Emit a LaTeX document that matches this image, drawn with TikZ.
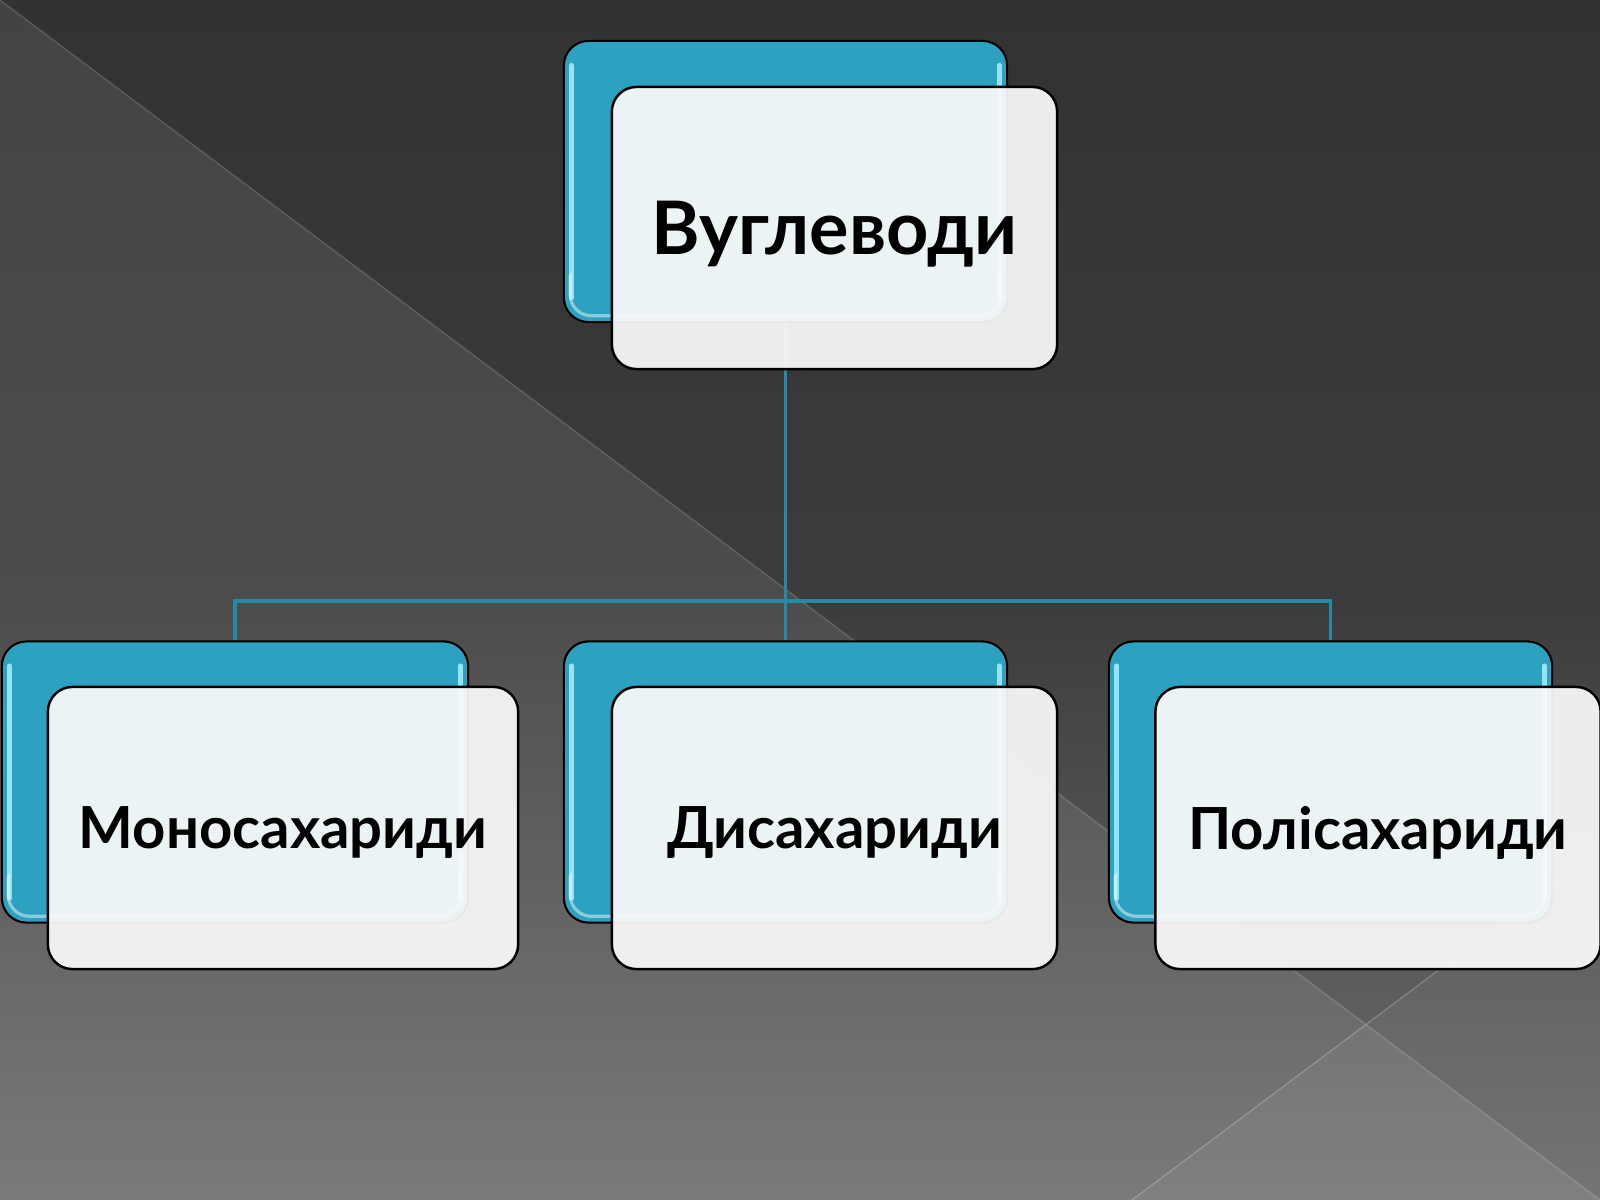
\documentclass[tikz,border=0pt]{standalone}
\usepackage{fontspec}
\setmainfont{Lato}
\usepackage{tikz}

\definecolor{bgtop}{RGB}{50,50,50}
\definecolor{bgmid}{RGB}{60,60,60}
\definecolor{bgbottom}{RGB}{110,110,110}
\definecolor{shellblue}{RGB}{45,162,192}
\definecolor{glint}{RGB}{160,236,252}
\definecolor{cardwhite}{RGB}{250,250,250}
\definecolor{linkteal}{RGB}{36,138,166}

\tikzset{
    carbshell/.style={draw=black, line width=0.6pt, fill=shellblue, rounded corners=7pt,
        inner sep=0pt, minimum width=4.43cm, minimum height=2.81cm,
        path picture={
            \draw[glint, line width=1.5pt, line cap=round, opacity=0.9]
                ([shift={(2.2pt,-7pt)}]path picture bounding box.north west) --
                ([shift={(2.2pt,7pt)}]path picture bounding box.south west);
            \draw[glint, line width=1.5pt, line cap=round, opacity=0.9]
                ([shift={(-2.2pt,-7pt)}]path picture bounding box.north east) --
                ([shift={(-2.2pt,7pt)}]path picture bounding box.south east);
            \begin{scope}
                \clip ([yshift=16pt]path picture bounding box.south west) rectangle
                    (path picture bounding box.south east);
                \draw[white, opacity=0.45, line width=0.9pt, rounded corners=6pt]
                    ([shift={(1.8pt,-1.8pt)}]path picture bounding box.north west) rectangle
                    ([shift={(-1.8pt,1.8pt)}]path picture bounding box.south east);
            \end{scope}
        }},
    carbcard/.style={draw=black, line width=0.7pt, fill=cardwhite, fill opacity=0.93,
        text opacity=1, rounded corners=7pt, inner sep=0pt,
        minimum width=4.45cm, minimum height=2.82cm, text depth=0pt,
        font=\bfseries\fontsize{16.5}{19}\selectfont},
    link/.style={linkteal, line width=0.9pt}
}

\begin{document}
\begin{tikzpicture}[x=0.01cm, y=-0.01cm]
    \useasboundingbox (0,0) rectangle (1600,1200);
    \clip (0,0) rectangle (1600,1200);

    % background
    \shade[top color=bgtop, bottom color=bgbottom, middle color=bgmid] (0,0) rectangle (1600,1200);
    \fill[white, opacity=0.085] (0,0) -- (1600,1200) -- (0,1200) -- cycle;
    \fill[white, opacity=0.05] (1132,1200) -- (1600,849) -- (1600,1200) -- cycle;
    \draw[white, opacity=0.15, line width=0.4pt] (0,0) -- (1600,1200);
    \draw[white, opacity=0.2, line width=0.4pt] (1132,1200) -- (1600,849);

    % blue shells
    \node[carbshell] (carbShell) at (785.5,181.5) {};
    \node[carbshell, minimum width=4.66cm] (monoShell) at (235,782) {};
    \node[carbshell] (diShell) at (785.5,782) {};
    \node[carbshell] (polyShell) at (1330.5,782) {};

    % links
    \coordinate (hub) at (carbShell.south |- 0,601);
    \draw[link] (carbShell.south) -- (hub);
    \draw[link] (hub) -| (monoShell.north);
    \draw[link] (hub) -- (diShell.north);
    \draw[link] (hub) -| (polyShell.north);

    % white cards
    \node[carbcard, font=\bfseries\fontsize{21}{24}\selectfont] (carb) at (834.5,228) {Вуглеводи};
    \node[carbcard, minimum width=4.70cm] (mono) at (283,828) {Моносахариди};
    \node[carbcard] (di) at (834.5,828) {Дисахариди};
    \node[carbcard] (poly) at (1378,828) {Полісахариди};
\end{tikzpicture}
\end{document}
